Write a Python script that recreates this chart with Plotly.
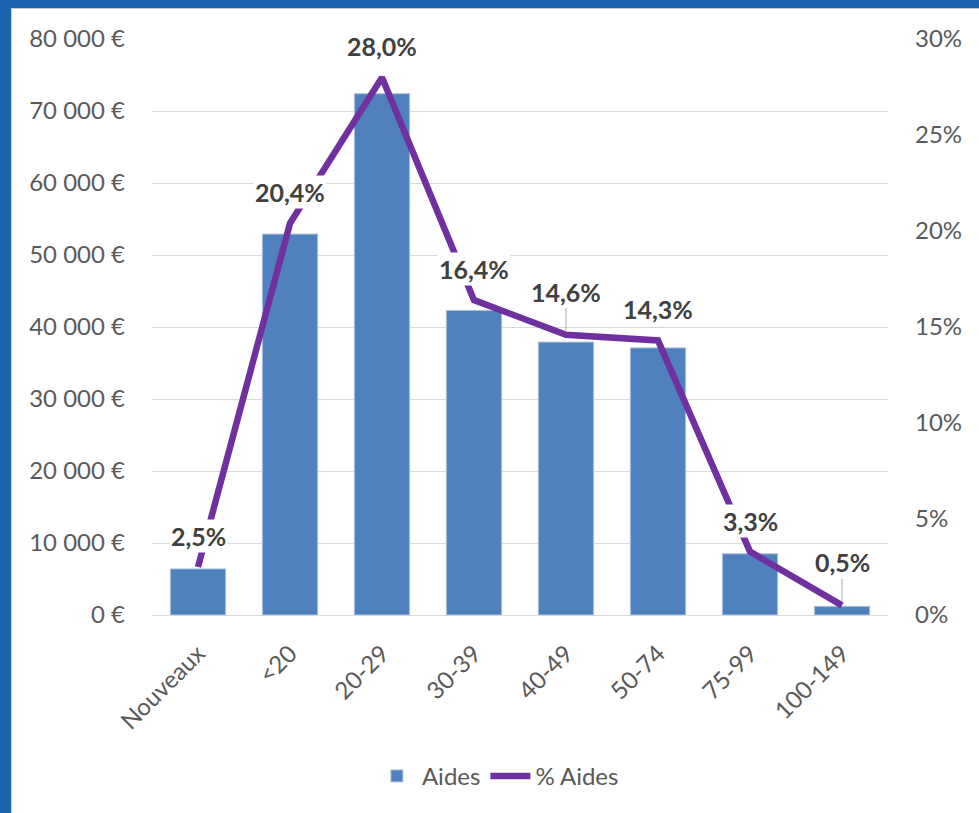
import plotly.graph_objects as go

categories = ["Nouveaux", "<20", "20-29", "30-39", "40-49", "50-74", "75-99", "100-149"]
aides = [6400, 52900, 72400, 42300, 37900, 37100, 8500, 1200]
pct_aides = [2.5, 20.4, 28.0, 16.4, 14.6, 14.3, 3.3, 0.5]
# labels that use a leader line
leader = [False, False, False, False, True, False, False, True]

W, H = 979, 813
L, R, T, B = 152, 91, 39, 198
pw, ph = W - L - R, H - T - B

FONT = "Lato"
GREY = "#595959"
FS = 24

fig = go.Figure()
fig.add_trace(go.Bar(
    x=categories, y=aides, name="Aides",
    marker=dict(color="#4f81bd", line=dict(color="#a9c0de", width=1)),
    yaxis="y",
))
fig.add_trace(go.Scatter(
    x=categories, y=pct_aides, name="% Aides", mode="lines",
    line=dict(color="#7030a0", width=6.5),
    yaxis="y2",
))

annotations = []
for c, v, ld in zip(categories, pct_aides, leader):
    txt = f"{v:.1f}".replace(".", ",") + "%"
    a = dict(x=c, y=v, xref="x", yref="y2", text=f"<b>{txt}</b>",
             font=dict(family=FONT, size=25, color="#404040"),
             bgcolor="white", borderpad=1)
    if ld:
        a.update(showarrow=True, ax=0, ay=-43, arrowhead=0, arrowwidth=1,
                 arrowcolor="#a6a6a6", standoff=4)
    else:
        a.update(showarrow=False, yshift=31)
    annotations.append(a)

top_y0 = (ph + T - 8) / ph
top_y1 = (ph + T) / ph
shapes = [
    dict(type="rect", xref="paper", yref="paper", layer="above",
         x0=-L / pw, x1=(11 - L) / pw, y0=-B / ph, y1=top_y1,
         fillcolor="#1a63ad", line=dict(width=0)),
    dict(type="rect", xref="paper", yref="paper", layer="above",
         x0=-L / pw, x1=(W - L) / pw, y0=top_y0, y1=top_y1,
         fillcolor="#1a63ad", line=dict(width=0)),
    dict(type="line", xref="paper", yref="paper", layer="above",
         x0=(11.5 - L) / pw, x1=(11.5 - L) / pw, y0=-B / ph, y1=top_y0,
         line=dict(color="#c8c8c8", width=1)),
    dict(type="line", xref="paper", yref="paper", layer="above",
         x0=(11.5 - L) / pw, x1=(W - L) / pw, y0=(ph + T - 8.5) / ph, y1=(ph + T - 8.5) / ph,
         line=dict(color="#c8c8c8", width=1)),
]

fig.update_layout(
    width=W, height=H,
    margin=dict(l=L, r=R, t=T, b=B, autoexpand=False),
    paper_bgcolor="white", plot_bgcolor="white",
    separators=", ",
    font=dict(family=FONT, size=FS, color=GREY),
    bargap=0.4,
    showlegend=True,
    legend=dict(orientation="h", x=0.47, xanchor="center", y=-0.28, yanchor="middle",
                font=dict(family=FONT, size=FS, color=GREY), itemwidth=40,
                traceorder="normal"),
    xaxis=dict(tickangle=-45, showgrid=False, showline=False,
               ticks="outside", ticklen=14, tickcolor="rgba(0,0,0,0)",
               tickfont=dict(family=FONT, size=FS, color=GREY)),
    yaxis=dict(range=[0, 80000], dtick=10000, tickformat=",.0f", ticksuffix=" €",
               showgrid=True, gridcolor="#d9d9d9", gridwidth=1,
               zeroline=True, zerolinecolor="#d9d9d9", zerolinewidth=1,
               ticklabelstandoff=26,
               tickfont=dict(family=FONT, size=FS, color=GREY)),
    yaxis2=dict(range=[0, 30], dtick=5, ticksuffix="%", overlaying="y", side="right",
                showgrid=False, zeroline=False, ticklabelstandoff=26,
                tickfont=dict(family=FONT, size=FS, color=GREY)),
    annotations=annotations,
    shapes=shapes,
)

fig.write_html("out.html", config={"displayModeBar": False},
               post_script="document.body.style.margin='0';document.body.style.overflow='hidden';")
